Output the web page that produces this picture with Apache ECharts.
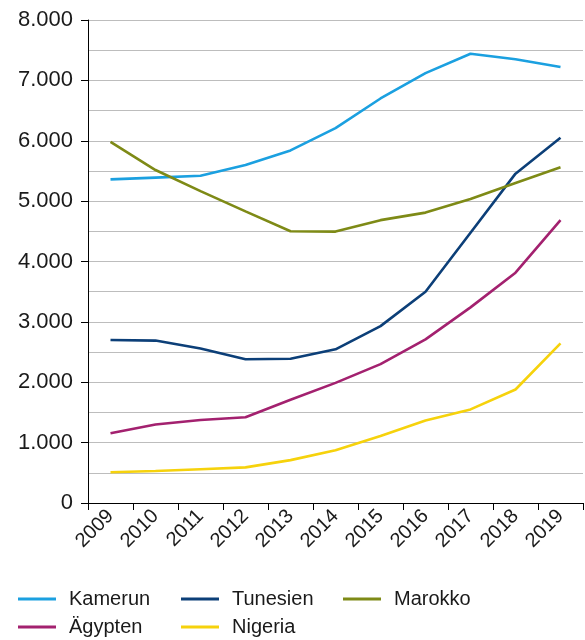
<!DOCTYPE html>
<html><head><meta charset="utf-8">
<script src="https://cdn.jsdelivr.net/npm/echarts@6/dist/echarts.min.js"></script>
<style>html,body{margin:0;padding:0;background:#fff}#c{width:585px;height:640px}</style>
</head><body><div id="c"></div>
<script>
const years = ['2009','2010','2011','2012','2013','2014','2015','2016','2017','2018','2019'];
const kamerun  = [5360, 5390, 5420, 5600, 5840, 6210, 6700, 7120, 7440, 7350, 7220];
const tunesien = [2700, 2690, 2560, 2380, 2390, 2545, 2930, 3500, 4475, 5455, 6050];
const marokko  = [5980, 5515, 5165, 4830, 4500, 4495, 4685, 4810, 5035, 5300, 5560];
const aegypten = [1155, 1300, 1375, 1420, 1710, 1990, 2300, 2710, 3240, 3815, 4685];
const nigeria  = [510, 530, 560, 590, 710, 875, 1110, 1365, 1550, 1880, 2645];
const names = ['Kamerun','Tunesien','Marokko','Ägypten','Nigeria'];
const colors = ['#1ba0e0','#0c3f78','#7e8a16','#a3216f','#f6d20c'];
const values = [kamerun, tunesien, marokko, aegypten, nigeria];
const FONT = 'Liberation Sans';

const chart = echarts.init(document.getElementById('c'), null, {renderer:'canvas'});
const legendBase = {
  orient:'vertical', icon:'rect', itemWidth:38, itemHeight:3, itemGap:6,
  height:60, padding:0,
  textStyle:{fontFamily:FONT, fontSize:20, color:'#1a1a1a', padding:[0,0,0,8], lineHeight:22},
  selectedMode:false
};
chart.setOption({
  animation:false,
  textStyle:{fontFamily:FONT},
  grid:{left:88, right:2, top:20, bottom:137, containLabel:false},
  legend:[
    Object.assign({}, legendBase, {left:18, top:588, data:['Kamerun','Ägypten']}),
    Object.assign({}, legendBase, {left:181, top:588, data:['Tunesien','Nigeria']}),
    Object.assign({}, legendBase, {left:343, top:588, data:['Marokko']})
  ],
  xAxis:{
    type:'category', data:years, boundaryGap:true,
    axisLine:{lineStyle:{color:'#000', width:1}},
    axisTick:{show:true, length:7, alignWithLabel:false, lineStyle:{color:'#000'}},
    axisLabel:{rotate:45, margin:10, fontSize:20, color:'#1a1a1a', fontFamily:FONT, interval:0}
  },
  yAxis:{
    type:'value', min:0, max:8000, interval:1000,
    axisLine:{show:true, lineStyle:{color:'#000', width:1}},
    axisTick:{show:true, length:7, inside:false, lineStyle:{color:'#000'}},
    axisLabel:{margin:15, fontSize:22, color:'#1a1a1a', fontFamily:FONT,
      formatter:v => v===0 ? '0' : (v/1000).toFixed(0)+'.000'},
    splitLine:{show:true, lineStyle:{color:'#bdbdbd', width:1}},
    minorTick:{show:false, splitNumber:2},
    minorSplitLine:{show:true, lineStyle:{color:'#bdbdbd', width:1}}
  },
  series: names.map((n,i)=>({
    name:n, type:'line', data:values[i], smooth:false, symbol:'none',
    lineStyle:{color:colors[i], width:2.6}, itemStyle:{color:colors[i]}
  }))
});
</script></body></html>
